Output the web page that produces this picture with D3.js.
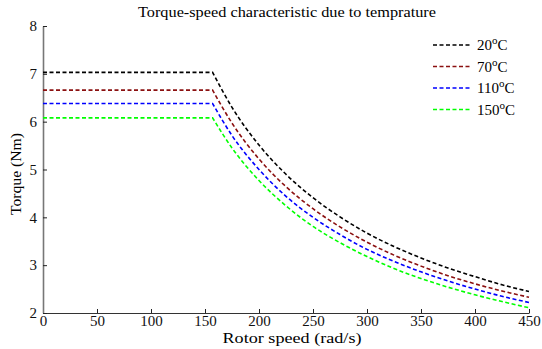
<!DOCTYPE html>
<html>
<head>
<meta charset="utf-8">
<script src="https://cdn.jsdelivr.net/npm/d3@7"></script>
<style>
  body { margin: 0; background: #fff; }
  text { font-family: "Liberation Serif", "Times New Roman", serif; }
</style>
</head>
<body>
<svg id="chart" width="542" height="349"></svg>
<script>
// rotor speed (rad/s)
var speeds = [0, 157, 175, 200, 225, 250, 275, 300, 325, 350, 375, 400, 425, 450];
// torque (Nm)
var torque20 = [7.03, 7.03, 6.30, 5.51, 4.90, 4.41, 4.01, 3.67, 3.39, 3.15, 2.94, 2.76, 2.59, 2.45];
var torque70 = [6.66, 6.66, 5.97, 5.22, 4.64, 4.18, 3.80, 3.48, 3.21, 2.98, 2.78, 2.61, 2.46, 2.33];
var torque110 = [6.38, 6.38, 5.71, 5.00, 4.44, 4.00, 3.64, 3.33, 3.08, 2.86, 2.67, 2.50, 2.35, 2.22];
var torque150 = [6.08, 6.08, 5.45, 4.77, 4.24, 3.81, 3.47, 3.18, 2.93, 2.72, 2.54, 2.38, 2.24, 2.11];
var seriesNames = ["20", "70", "110", "150"];
var seriesColors = ["#000000", "#8b1010", "#0000ff", "#00ff00"];
var xTicks = [0, 50, 100, 150, 200, 250, 300, 350, 400, 450];
var yTicks = [2, 3, 4, 5, 6, 7, 8];

var allSeries = [torque20, torque70, torque110, torque150];

var svg = d3.select("#chart");
var mLeft = 43, mRight = 529, mTop = 26, mBottom = 313;

var xScale = d3.scaleLinear().domain([0, 450]).range([mLeft, mRight]);
var yScale = d3.scaleLinear().domain([2, 8]).range([mBottom, mTop]);

// title
svg.append("text")
    .attr("x", 287).attr("y", 17)
    .attr("text-anchor", "middle")
    .attr("textLength", 298)
    .attr("lengthAdjust", "spacingAndGlyphs")
    .style("font-size", "15px")
    .text("Torque-speed characteristic due to temprature");

// axes with inward ticks
var xAxis = svg.append("g")
    .attr("transform", "translate(0," + mBottom + ")")
    .call(d3.axisBottom(xScale).tickValues(xTicks).tickSizeInner(-4).tickSizeOuter(0).tickPadding(2));
var yAxis = svg.append("g")
    .attr("transform", "translate(" + mLeft + ",0)")
    .call(d3.axisLeft(yScale).tickValues(yTicks).tickFormat(d3.format("d"))
        .tickSizeInner(-4).tickSizeOuter(0).tickPadding(6));

[xAxis, yAxis].forEach(function(ax) {
    ax.selectAll("text")
        .style("font-family", "Liberation Serif, serif")
        .style("font-size", "15px")
        .attr("fill", "#111");
    ax.selectAll("line").attr("stroke", "#222");
});
xAxis.select(".domain").attr("stroke", "#333").attr("stroke-width", 1.2);
yAxis.select(".domain").attr("stroke", "#777").attr("stroke-width", 1.6);

// axis labels
svg.append("text")
    .attr("x", 292).attr("y", 343)
    .attr("text-anchor", "middle")
    .attr("textLength", 139)
    .attr("lengthAdjust", "spacingAndGlyphs")
    .style("font-size", "15px")
    .text("Rotor speed (rad/s)");
svg.append("text")
    .attr("transform", "translate(21,174) rotate(-90)")
    .attr("text-anchor", "middle")
    .attr("textLength", 82)
    .attr("lengthAdjust", "spacingAndGlyphs")
    .style("font-size", "15px")
    .text("Torque (Nm)");

// curves: flat part straight, falling part smooth, one path each
var flat = d3.line()
    .x(function(d, i) { return xScale(speeds[i]); })
    .y(function(d) { return yScale(d); });
var fall = d3.line()
    .x(function(d, i) { return xScale(speeds[i + 1]); })
    .y(function(d) { return yScale(d); })
    .curve(d3.curveMonotoneX);

allSeries.forEach(function(s, k) {
    var d1 = flat(s.slice(0, 2));
    var d2 = fall(s.slice(1)).replace(/^M[^C]*/, "");
    svg.append("path")
        .attr("d", d1 + d2)
        .attr("fill", "none")
        .attr("stroke", seriesColors[k])
        .attr("stroke-width", 1.6)
        .attr("stroke-dasharray", "4,2.5");
});

// legend
var legend = svg.append("g");
seriesNames.forEach(function(name, k) {
    var yy = 45 + k * 21.5;
    legend.append("line")
        .attr("x1", 433).attr("x2", 472)
        .attr("y1", yy).attr("y2", yy)
        .attr("stroke", seriesColors[k])
        .attr("stroke-width", 1.6)
        .attr("stroke-dasharray", "4,2.5");
    var t = legend.append("text")
        .attr("x", 477).attr("y", yy + 5)
        .style("font-size", "15px");
    t.append("tspan").text(name);
    t.append("tspan").attr("dy", -6).style("font-size", "11px").text("o");
    t.append("tspan").attr("dy", 6).text("C");
});
</script>
</body>
</html>
